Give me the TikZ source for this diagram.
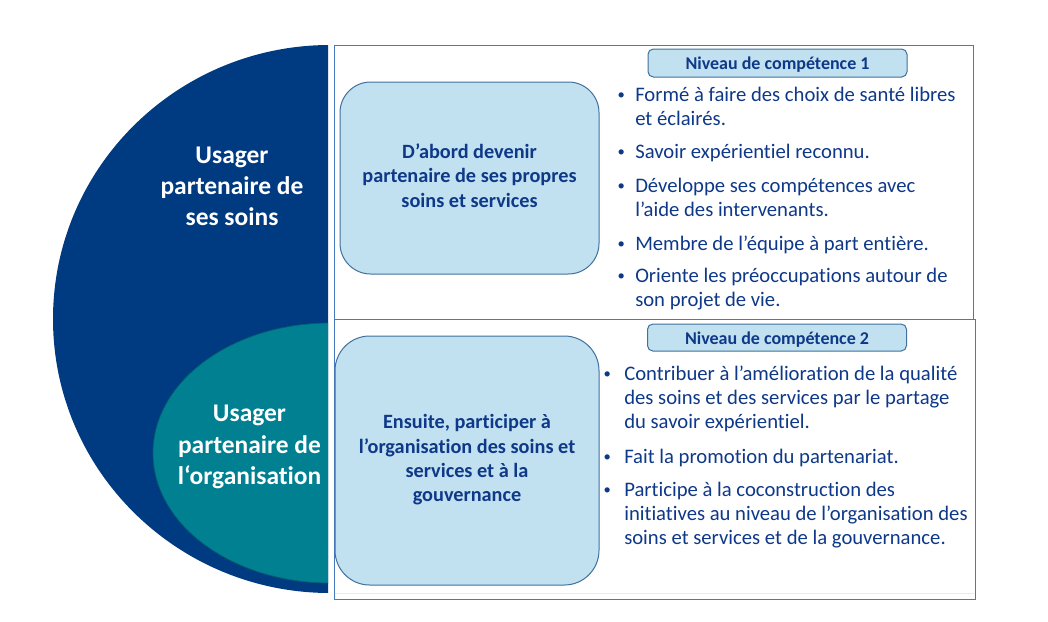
\documentclass[tikz,border=0pt]{standalone}
\usepackage{fontspec}
\setmainfont{Carlito}[Ligatures=NoCommon]
\definecolor{navy}{RGB}{0,58,128}
\definecolor{tealc}{RGB}{0,128,145}
\definecolor{txt}{RGB}{14,56,136}
\definecolor{boxfill}{RGB}{193,224,240}
\definecolor{boxline}{RGB}{65,113,156}
\definecolor{panel}{RGB}{70,122,190}
\newcommand\mybul[1]{\llap{\makebox[0pt]{\raisebox{1.2pt}{\fontsize{11pt}{11pt}\selectfont •}}\hspace{#1}}}
\newcommand\mlc[1]{\begin{tabular}{@{}c@{}}#1\end{tabular}}
\newcommand\mll[1]{\begin{tabular}[t]{@{}l@{}}#1\end{tabular}}
\begin{document}
\begin{tikzpicture}[x=0.75pt,y=-0.75pt,
  bigbox/.style={draw=boxline, fill=boxfill, line width=0.75pt, inner sep=0pt,
    text=txt, font=\fontsize{15.2pt}{18.3pt}\selectfont\bfseries},
  lvlbox/.style={draw=boxline, fill=boxfill, line width=0.75pt, rounded corners=4pt,
    minimum width=194.25pt, inner sep=0pt,
    text=txt, font=\fontsize{13.5pt}{16.5pt}\selectfont\bfseries},
  item/.style={anchor=base west, inner sep=0pt, text=txt,
    font=\fontsize{15.5pt}{18.3pt}\selectfont},
  lefttxt/.style={inner sep=0pt, text=white,
    font=\fontsize{19.1pt}{23.6pt}\selectfont\bfseries},
  panelline/.style={draw=panel, line width=0.75pt}
]
\useasboundingbox (0,0) rectangle (1048,621);
% left half ellipses
\begin{scope}
  \clip (0,0) rectangle (328,621);
  \fill[navy] (330,319) ellipse [x radius=207.75pt, y radius=205.5pt];
  \filldraw[fill=tealc, draw=tealc!75!black, line width=0.5pt] (330,453) ellipse [x radius=132.75pt, y radius=97.5pt];
\end{scope}
\node[lefttxt] (l1) at (232,188.2) {\mlc{Usager\\partenaire de\\ses soins}};
\node[lefttxt] (l2) at (249.5,446.8) {\mlc{Usager\\partenaire de\\l‘organisation}};
% panels
\draw[panelline] (334,45) rectangle (973,319);
\draw[panelline] (334,319) rectangle (975,599);
\draw[draw=black!8, line width=0.75pt] (335,593) -- (974,593);
% big boxes
\node[bigbox, rounded corners=23pt, minimum width=194.25pt, minimum height=144pt] (b1) at (469.5,178)
  {\mlc{D’abord devenir\\partenaire de ses propres\\soins et services}};
\node[bigbox, rounded corners=26pt, minimum width=198pt, minimum height=186.75pt] (b2) at (467,460.5)
  {\mlc{Ensuite, participer à\\l’organisation des soins et\\services et à la\\gouvernance}};
% level boxes
\node[lvlbox, minimum height=21pt, text height=11pt, text depth=2pt] (n1) at (777.5,63) {Niveau de compétence 1};
\node[lvlbox, minimum height=20.25pt, text height=11.5pt, text depth=1.7pt] (n2) at (777,337.5) {Niveau de compétence 2};
% level 1 items
\node[item] (i1) at (635,101) {\mll{\mybul{10.5pt}Formé à faire des choix de santé libres\\et éclairés.}};
\node[item] (i2) at (635,158) {\mll{\mybul{10.5pt}Savoir expérientiel reconnu.}};
\node[item] (i3) at (635,192) {\mll{\mybul{10.5pt}Développe ses compétences avec\\l’aide des intervenants.}};
\node[item] (i4) at (635,250) {\mll{\mybul{10.5pt}Membre de l’équipe à part entière.}};
\node[item] (i5) at (635,282) {\mll{\mybul{10.5pt}Oriente les préoccupations autour de\\son projet de vie.}};
% level 2 items
\node[item] (j1) at (624,380) {\mll{\mybul{12.75pt}Contribuer à l’amélioration de la qualité\\des soins et des services par le partage\\du savoir expérientiel.}};
\node[item] (j2) at (624,463) {\mll{\mybul{12.75pt}Fait la promotion du partenariat.}};
\node[item] (j3) at (624,496) {\mll{\mybul{12.75pt}Participe à la coconstruction des\\initiatives au niveau de l’organisation des\\soins et services et de la gouvernance.}};
\end{tikzpicture}
\end{document}
